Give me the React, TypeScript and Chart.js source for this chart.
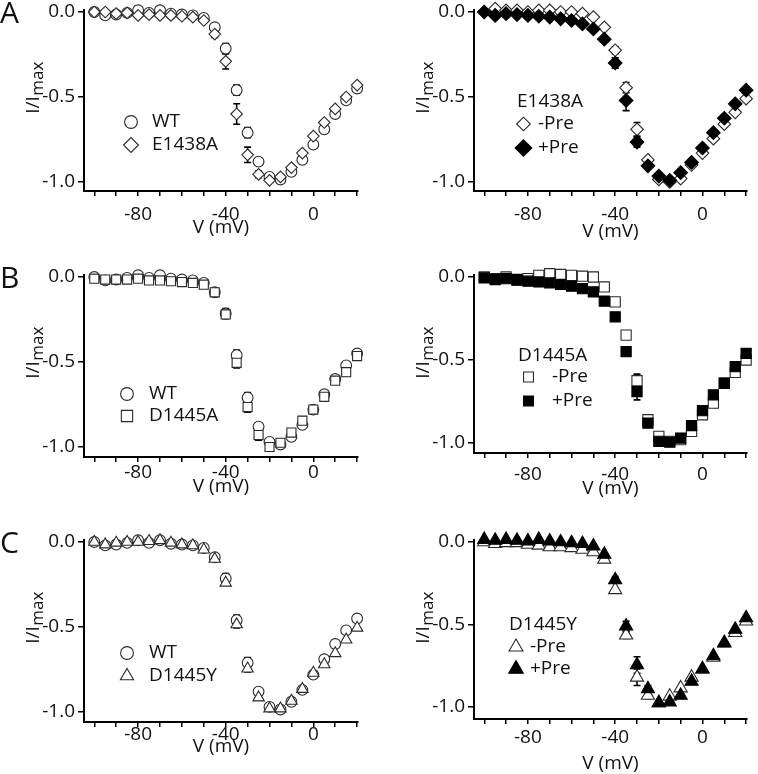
import React, { useEffect, useRef } from 'react';
import { Chart, registerables } from 'chart.js';
import { drawPoint } from 'chart.js/helpers';

Chart.register(...registerables);

const FONT = '"Open Sans", "DejaVu Sans", sans-serif';

// ---------- data ----------
const VOLTAGE = [-100, -95, -90, -85, -80, -75, -70, -65, -60, -55, -50, -45, -40, -35, -30, -25, -20, -15, -10, -5, 0, 5, 10, 15, 20];
const X_TICKS = [-100, -90, -80, -70, -60, -50, -40, -30, -20, -10, 0, 10, 20];
const X_LABELS = [-80, -40, 0];
const Y_TICKS = [0, -0.5, -1.0];

const WT = [0.0, -0.02, -0.015, -0.005, 0.01, -0.005, 0.01, -0.01, -0.015, -0.02, -0.035, -0.09, -0.215, -0.46, -0.71, -0.88, -0.97, -0.985, -0.94, -0.87, -0.78, -0.69, -0.6, -0.52, -0.45];
const WT_SEM = [0, 0, 0, 0, 0, 0, 0, 0, 0, 0, 0, 0.01, 0.03, 0.03, 0.03, 0.02, 0, 0, 0, 0, 0, 0, 0, 0, 0];

const E1438A = [0.0, 0.0, -0.01, -0.005, -0.02, -0.015, -0.02, -0.02, -0.025, -0.03, -0.05, -0.13, -0.29, -0.6, -0.84, -0.955, -0.99, -0.97, -0.915, -0.83, -0.73, -0.65, -0.57, -0.5, -0.43];
const E1438A_SEM = [0, 0, 0, 0, 0, 0, 0, 0, 0, 0, 0, 0.02, 0.045, 0.06, 0.045, 0.02, 0, 0, 0, 0, 0, 0, 0, 0, 0];

const E1438A_MINUS_PRE = [0.0, 0.02, 0.01, 0.01, 0.0, 0.01, 0.01, 0.0, 0.0, -0.01, -0.03, -0.09, -0.225, -0.445, -0.69, -0.87, -0.985, -1.0, -0.98, -0.9, -0.83, -0.745, -0.66, -0.59, -0.51];
const E1438A_MINUS_PRE_SEM = [0, 0, 0, 0, 0, 0, 0, 0, 0, 0, 0, 0, 0.02, 0.03, 0.04, 0, 0, 0, 0, 0, 0, 0, 0, 0, 0];
const E1438A_PLUS_PRE = [0.0, -0.02, -0.01, -0.015, -0.02, -0.025, -0.03, -0.04, -0.05, -0.07, -0.1, -0.16, -0.3, -0.52, -0.765, -0.905, -0.965, -0.99, -0.945, -0.885, -0.8, -0.71, -0.625, -0.54, -0.46];
const E1438A_PLUS_PRE_SEM = [0, 0, 0, 0, 0, 0, 0, 0, 0, 0, 0, 0.01, 0.03, 0.06, 0.03, 0, 0, 0, 0, 0, 0, 0, 0, 0, 0];

const D1445A = [-0.01, -0.015, -0.015, -0.015, -0.01, -0.02, -0.02, -0.025, -0.03, -0.035, -0.045, -0.09, -0.22, -0.505, -0.765, -0.93, -1.0, -0.975, -0.915, -0.845, -0.78, -0.705, -0.61, -0.56, -0.465];
const D1445A_SEM = [0, 0, 0, 0, 0, 0, 0, 0, 0, 0, 0, 0, 0.01, 0.03, 0.03, 0.03, 0, 0, 0, 0, 0, 0, 0, 0.02, 0];

const D1445A_MINUS_PRE = [0.0, -0.01, 0.0, -0.02, -0.01, 0.01, 0.02, 0.015, 0.01, 0.005, 0.0, -0.06, -0.15, -0.35, -0.625, -0.86, -0.96, -0.99, -0.98, -0.93, -0.83, -0.76, -0.64, -0.575, -0.5];
const D1445A_MINUS_PRE_SEM = [0, 0, 0, 0, 0, 0, 0, 0, 0, 0, 0, 0, 0, 0, 0.04, 0.02, 0, 0, 0, 0, 0, 0, 0, 0, 0];
const D1445A_PLUS_PRE = [-0.005, -0.015, -0.01, -0.015, -0.025, -0.03, -0.035, -0.045, -0.055, -0.07, -0.09, -0.145, -0.24, -0.45, -0.69, -0.88, -0.99, -0.995, -0.97, -0.895, -0.805, -0.71, -0.64, -0.54, -0.46];
const D1445A_PLUS_PRE_SEM = [0, 0, 0, 0, 0, 0, 0, 0, 0, 0, 0, 0, 0, 0, 0.05, 0, 0, 0, 0, 0, 0, 0, 0, 0, 0];

const D1445Y = [0.0, -0.015, -0.005, 0.0, 0.0, 0.005, 0.01, -0.005, -0.015, -0.02, -0.045, -0.1, -0.24, -0.485, -0.745, -0.915, -0.98, -0.98, -0.935, -0.865, -0.77, -0.72, -0.655, -0.575, -0.505];
const D1445Y_SEM = [0, 0, 0, 0, 0, 0, 0, 0, 0, 0, 0, 0, 0.01, 0.02, 0.02, 0.01, 0, 0, 0, 0, 0, 0, 0, 0, 0];

const D1445Y_MINUS_PRE = [0.0, -0.01, -0.005, -0.005, -0.015, -0.02, -0.03, -0.03, -0.035, -0.045, -0.06, -0.105, -0.29, -0.565, -0.82, -0.93, -0.975, -0.935, -0.885, -0.82, -0.77, -0.7, -0.615, -0.55, -0.48];
const D1445Y_MINUS_PRE_SEM = [0, 0, 0, 0, 0, 0, 0, 0, 0, 0, 0, 0, 0, 0.02, 0.05, 0.02, 0, 0, 0, 0, 0, 0, 0, 0, 0];
const D1445Y_PLUS_PRE = [0.015, 0.01, 0.015, 0.01, 0.005, 0.015, 0.005, 0.0, -0.005, -0.01, -0.025, -0.075, -0.23, -0.51, -0.745, -0.89, -0.975, -0.97, -0.93, -0.845, -0.77, -0.69, -0.61, -0.53, -0.46];
const D1445Y_PLUS_PRE_SEM = [0, 0, 0, 0, 0, 0, 0, 0, 0, 0, 0, 0, 0.02, 0.03, 0.05, 0.02, 0, 0, 0, 0, 0, 0, 0, 0, 0];

const X_MIN = -104.7;
const X_MAX = 20.4;

// ---------- panel definitions ----------
type Series = {
  label: string;
  data: number[];
  sem: number[];
  style: string;
  filled: boolean;
  r: number;
  legendR: number;
};

type Panel = {
  letter: string;
  box: { left: number; top: number; width: number; height: number };
  area: { left: number; right: number; y0: number; y1: number; bottom: number };
  tickOff: number;
  titleOff: number;
  series: Series[];
  legendTitle: null | { text: string; x: number; y: number };
  legend: { mx: number; tx: number; rows: number[] };
};

const PANELS: Panel[] = [
  {
    letter: 'A',
    box: { left: 0, top: 0, width: 380, height: 250 },
    area: { left: 84, right: 358, y0: 12, y1: 182, bottom: 191 },
    tickOff: 23, titleOff: 37,
    series: [
      { label: 'WT', data: WT, sem: WT_SEM, style: 'circle', filled: false, r: 5.4, legendR: 6.4 },
      { label: 'E1438A', data: E1438A, sem: E1438A_SEM, style: 'rectRot', filled: false, r: 5.8, legendR: 7.4 },
    ],
    legendTitle: null,
    legend: { mx: 131, tx: 152, rows: [122, 145] },
  },
  {
    letter: '',
    box: { left: 380, top: 0, width: 378, height: 250 },
    area: { left: 94, right: 367, y0: 12, y1: 182, bottom: 191 },
    tickOff: 23, titleOff: 41,
    series: [
      { label: '-Pre', data: E1438A_MINUS_PRE, sem: E1438A_MINUS_PRE_SEM, style: 'rectRot', filled: false, r: 6.3, legendR: 6.8 },
      { label: '+Pre', data: E1438A_PLUS_PRE, sem: E1438A_PLUS_PRE_SEM, style: 'rectRot', filled: true, r: 6.8, legendR: 8.3 },
    ],
    legendTitle: { text: 'E1438A', x: 137, y: 102 },
    legend: { mx: 143.5, tx: 158, rows: [124, 148] },
  },
  {
    letter: 'B',
    box: { left: 0, top: 250, width: 380, height: 260 },
    area: { left: 84, right: 358, y0: 27, y1: 197, bottom: 207 },
    tickOff: 15, titleOff: 30,
    series: [
      { label: 'WT', data: WT, sem: WT_SEM, style: 'circle', filled: false, r: 5.4, legendR: 6.4 },
      { label: 'D1445A', data: D1445A, sem: D1445A_SEM, style: 'rect', filled: false, r: 6.4, legendR: 8.0 },
    ],
    legendTitle: null,
    legend: { mx: 127, tx: 149, rows: [144, 166] },
  },
  {
    letter: '',
    box: { left: 380, top: 250, width: 378, height: 260 },
    area: { left: 94, right: 367, y0: 27, y1: 193, bottom: 203 },
    tickOff: 21, titleOff: 36,
    series: [
      { label: '-Pre', data: D1445A_MINUS_PRE, sem: D1445A_MINUS_PRE_SEM, style: 'rect', filled: false, r: 7.2, legendR: 7.0 },
      { label: '+Pre', data: D1445A_PLUS_PRE, sem: D1445A_PLUS_PRE_SEM, style: 'rect', filled: true, r: 7.2, legendR: 7.0 },
    ],
    legendTitle: { text: 'D1445A', x: 138, y: 106 },
    legend: { mx: 148.5, tx: 172, rows: [127, 151] },
  },
  {
    letter: 'C',
    box: { left: 0, top: 510, width: 380, height: 264 },
    area: { left: 84, right: 358, y0: 32, y1: 202, bottom: 212 },
    tickOff: 12, titleOff: 25,
    series: [
      { label: 'WT', data: WT, sem: WT_SEM, style: 'circle', filled: false, r: 5.4, legendR: 6.4 },
      { label: 'D1445Y', data: D1445Y, sem: D1445Y_SEM, style: 'triangle', filled: false, r: 6.6, legendR: 7.6 },
    ],
    legendTitle: null,
    legend: { mx: 127, tx: 149, rows: [143, 166] },
  },
  {
    letter: '',
    box: { left: 380, top: 510, width: 378, height: 264 },
    area: { left: 94, right: 367, y0: 32, y1: 197, bottom: 209 },
    tickOff: 18, titleOff: 45,
    series: [
      { label: '-Pre', data: D1445Y_MINUS_PRE, sem: D1445Y_MINUS_PRE_SEM, style: 'triangle', filled: false, r: 7.6, legendR: 8.0 },
      { label: '+Pre', data: D1445Y_PLUS_PRE, sem: D1445Y_PLUS_PRE_SEM, style: 'triangle', filled: true, r: 7.6, legendR: 8.4 },
    ],
    legendTitle: { text: 'D1445Y', x: 129, y: 115 },
    legend: { mx: 136, tx: 150, rows: [137, 159] },
  },
];

const OPEN_STROKE = '#2a2a2a';
const FS = 19;

function PanelChart({ panel }: { panel: Panel }) {
  const ref = useRef<HTMLCanvasElement | null>(null);

  useEffect(() => {
    const canvas = ref.current;
    if (!canvas) return;
    const { box, area } = panel;
    const k = area.y1 - area.y0;
    const yMax = 0.01;
    const yMin = -(area.bottom - area.y0) / k;
    const topPx = area.y0 - yMax * k;
    const tickLen = 5;
    const tickPad = panel.tickOff - tickLen - (FS * 1.2) / 2 + 1;

    const deco = {
      id: 'deco',
      beforeDatasetsDraw(chart: any) {
        const ctx = chart.ctx;
        const xs = chart.scales.x;
        const ys = chart.scales.y;
        ctx.save();
        ctx.strokeStyle = '#000';
        ctx.lineWidth = 1.6;
        panel.series.forEach((s) => {
          s.sem.forEach((e, i) => {
            if (!e) return;
            const px = xs.getPixelForValue(VOLTAGE[i]);
            const pTop = ys.getPixelForValue(s.data[i] + e);
            const pBot = ys.getPixelForValue(s.data[i] - e);
            const cap = 3.5;
            ctx.beginPath();
            ctx.moveTo(px, pTop);
            ctx.lineTo(px, pBot);
            ctx.moveTo(px - cap, pTop);
            ctx.lineTo(px + cap, pTop);
            ctx.moveTo(px - cap, pBot);
            ctx.lineTo(px + cap, pBot);
            ctx.stroke();
          });
        });
        ctx.restore();
      },
      afterDraw(chart: any) {
        const ctx = chart.ctx;
        const ca = chart.chartArea;
        ctx.save();
        ctx.fillStyle = '#111';
        // panel letter
        if (panel.letter) {
          ctx.font = `30px ${FONT}`;
          ctx.textAlign = 'left';
          ctx.textBaseline = 'top';
          ctx.fillText(panel.letter, 0, area.y0 - 13);
        }
        // x title
        ctx.font = `${FS}px ${FONT}`;
        ctx.textAlign = 'center';
        ctx.textBaseline = 'middle';
        ctx.fillText('V (mV)', (ca.left + ca.right) / 2, ca.bottom + panel.titleOff);
        // y title with subscript
        ctx.save();
        ctx.translate(ca.left - 45, area.y0 + 76);
        ctx.rotate(-Math.PI / 2);
        ctx.textAlign = 'left';
        ctx.textBaseline = 'alphabetic';
        ctx.font = `${FS}px ${FONT}`;
        const main = 'I/I';
        const sub = 'max';
        const w1 = ctx.measureText(main).width;
        ctx.font = `17px ${FONT}`;
        const w2 = ctx.measureText(sub).width;
        const start = -(w1 + w2) / 2;
        ctx.font = `${FS}px ${FONT}`;
        ctx.fillText(main, start, 0);
        ctx.font = `17px ${FONT}`;
        ctx.fillText(sub, start + w1 + 0.5, 4);
        ctx.restore();
        // legend
        ctx.font = `${FS}px ${FONT}`;
        ctx.textAlign = 'left';
        ctx.textBaseline = 'middle';
        if (panel.legendTitle) {
          ctx.fillText(panel.legendTitle.text, panel.legendTitle.x, panel.legendTitle.y);
        }
        panel.series.forEach((s, i) => {
          const y = panel.legend.rows[i];
          ctx.fillStyle = s.filled ? '#000' : '#fff';
          ctx.strokeStyle = s.filled ? '#000' : OPEN_STROKE;
          ctx.lineWidth = 1.1;
          drawPoint(ctx, { pointStyle: s.style, radius: s.legendR, rotation: 0, borderWidth: 1.1 } as any, panel.legend.mx, y);
          ctx.fillStyle = '#111';
          ctx.fillText(s.label, panel.legend.tx, y);
        });
        ctx.restore();
      },
    };

    const n = panel.series.length;
    const chart = new Chart(canvas, {
      type: 'scatter',
      data: {
        datasets: panel.series.map((s, i) => ({
          label: s.label,
          data: VOLTAGE.map((v, j) => ({ x: v, y: s.data[j] })),
          pointStyle: s.style as any,
          pointRadius: s.r,
          pointHoverRadius: s.r,
          pointBackgroundColor: s.filled ? '#000' : '#fff',
          pointBorderColor: s.filled ? '#000' : OPEN_STROKE,
          pointBorderWidth: 1.1,
          showLine: false,
          clip: false as any,
          order: n - i,
        })),
      },
      options: {
        animation: false,
        responsive: false,
        events: [],
        layout: { padding: { left: 0, top: topPx, right: box.width - area.right, bottom: 0 } },
        plugins: { legend: { display: false }, tooltip: { enabled: false } },
        scales: {
          x: {
            type: 'linear',
            min: X_MIN,
            max: X_MAX,
            afterBuildTicks: (s: any) => {
              s.ticks = X_TICKS.map((v) => ({ value: v }));
            },
            afterFit: (s: any) => {
              s.height = box.height - area.bottom;
              s.paddingLeft = 0;
              s.paddingRight = 0;
            },
            ticks: {
              autoSkip: false,
              maxRotation: 0,
              minRotation: 0,
              padding: tickPad,
              color: '#111',
              font: { family: FONT, size: FS },
              callback: (v: any) => (X_LABELS.includes(Number(v)) ? String(v) : ''),
            },
            grid: { drawOnChartArea: false, drawTicks: true, tickLength: tickLen, color: '#000', lineWidth: 1.5 },
            border: { display: true, color: '#000', width: 2 },
          },
          y: {
            type: 'linear',
            min: yMin,
            max: yMax,
            afterBuildTicks: (s: any) => {
              s.ticks = Y_TICKS.map((v) => ({ value: v }));
            },
            afterFit: (s: any) => {
              s.width = area.left;
              s.paddingTop = 0;
              s.paddingBottom = 0;
            },
            ticks: {
              padding: 3,
              color: '#111',
              font: { family: FONT, size: FS },
              callback: (v: any) => Number(v).toFixed(1),
            },
            grid: { drawOnChartArea: false, drawTicks: true, tickLength: 6, color: '#000', lineWidth: 1.5 },
            border: { display: true, color: '#000', width: 2 },
          },
        },
      },
      plugins: [deco],
    } as any);

    return () => chart.destroy();
  }, [panel]);

  const { box } = panel;
  return (
    <canvas
      ref={ref}
      width={box.width}
      height={box.height}
      style={{ position: 'absolute', left: box.left, top: box.top, width: box.width, height: box.height, display: 'block' }}
    />
  );
}

export default function App() {
  return (
    <div style={{ position: 'absolute', left: 0, top: 0, width: 758, height: 774, background: '#fff', overflow: 'hidden' }}>
      {PANELS.map((p, i) => (
        <PanelChart key={i} panel={p} />
      ))}
    </div>
  );
}
